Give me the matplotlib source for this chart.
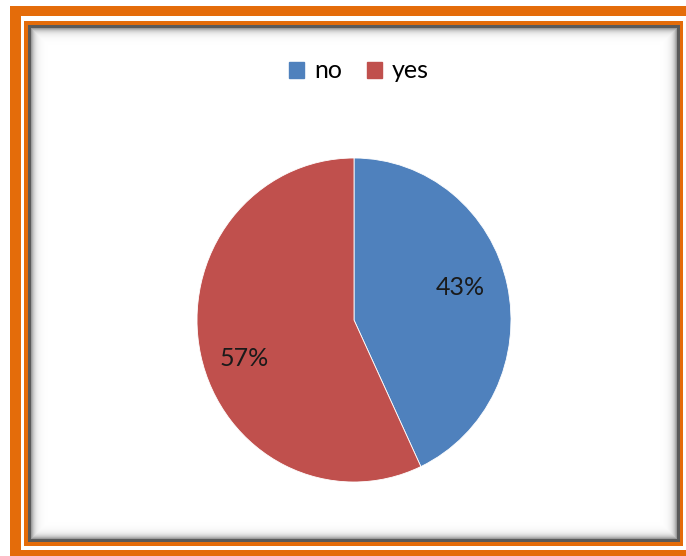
import numpy as np
import matplotlib.pyplot as plt
from matplotlib.patches import Rectangle

labels = ["no", "yes"]
shares = [43, 57]
colors = ["#4F81BD", "#C0504D"]

W, H = 686, 556
ORANGE = "#E46C0A"

fig = plt.figure(figsize=(W / 100, H / 100), dpi=100)
fig.patch.set_facecolor("white")

# frame drawn in pixel coordinates on a background axes
bg = fig.add_axes([0, 0, 1, 1])
bg.set_xlim(0, W)
bg.set_ylim(H, 0)
bg.axis("off")

bg.add_patch(Rectangle((10, 6), 700, 600, color=ORANGE, lw=0, zorder=1))
bg.add_patch(Rectangle((21, 16), 700, 534, color="white", lw=0, zorder=1))
bg.add_patch(Rectangle((24, 21), 659, 525, color=ORANGE, lw=0, zorder=1))
bg.add_patch(Rectangle((28, 25), 652, 517, color="#5a5a5a", lw=0, zorder=1))

# inner panel with a soft inset shadow
x0, y0, x1, y1 = 31, 28, 677, 539
xs = np.arange(x0, x1) + 0.5
ys = np.arange(y0, y1) + 0.5
dx = np.minimum(xs - x0, x1 - xs)[None, :]
dy = np.minimum(ys - y0, y1 - ys)[:, None]
d = np.minimum(dx, dy)
shade = 1 - 0.45 * np.exp(-d / 3.5)
bg.imshow(shade, cmap="gray", vmin=0, vmax=1, extent=(x0, x1, y1, y0),
          interpolation="bilinear", aspect="auto", zorder=2)
bg.set_xlim(0, W)
bg.set_ylim(H, 0)

# pie
cx, cy, rx, ry = 354, 320, 157, 162
ax = fig.add_axes([(cx - rx) / W, 1 - (cy + ry) / H, 2 * rx / W, 2 * ry / H])
wedges, texts, autotexts = ax.pie(
    shares, colors=colors, startangle=90, counterclock=False,
    autopct="%d%%", pctdistance=0.7, radius=1,
    wedgeprops=dict(edgecolor="white", linewidth=0.6),
    textprops=dict(fontsize=18, family="Lato", color="#1a1a1a"))
autotexts[0].set_position((0.68, 0.20))
autotexts[1].set_position((-0.70, -0.235))
ax.set_xlim(-1, 1)
ax.set_ylim(-1, 1)
ax.set_aspect("auto")
ax.axis("off")

# legend across the top
handles = [Rectangle((0, 0), 1, 1, color=c) for c in colors]
fig.legend(handles, labels, loc="center", bbox_to_anchor=(359 / W, 1 - 71 / H),
           ncol=2, frameon=False, handlelength=0.6, handleheight=0.6,
           handletextpad=0.4, columnspacing=1.0,
           prop=dict(family="Lato", size=18))

fig.savefig("out.png", dpi=100)
